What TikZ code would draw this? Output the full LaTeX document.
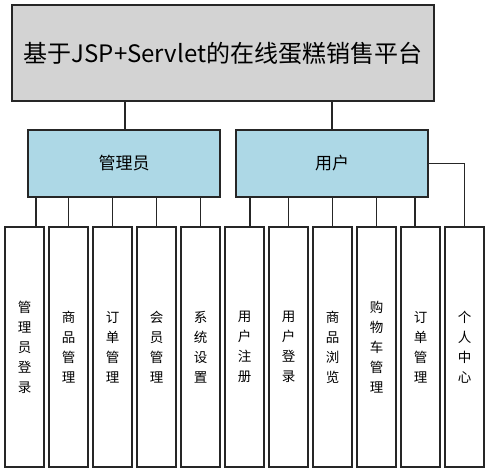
\documentclass[tikz,border=0pt]{standalone}
\usepackage{fontspec}
\setmainfont{Noto Sans CJK SC}
\definecolor{titlegray}{HTML}{D3D3D3}
\definecolor{midblue}{HTML}{ADD8E6}
\definecolor{edge}{HTML}{262626}
\begin{document}
\begin{tikzpicture}[x=1bp,y=-1bp,
  box/.style={draw=edge,line width=1.1bp,rectangle,inner sep=0pt},
  titlebox/.style={box,fill=titlegray,minimum width=422bp,minimum height=96bp,font=\fontsize{24bp}{28bp}\selectfont},
  midbox/.style={box,fill=midblue,minimum width=192bp,minimum height=67bp,font=\fontsize{17bp}{20bp}\selectfont},
  leafbox/.style={box,fill=white,minimum width=39bp,minimum height=240bp,align=center,font=\fontsize{13.5bp}{20bp}\selectfont},
  link/.style={draw=edge,line width=1.1bp}]
\useasboundingbox (0,0) rectangle (489,473);
\node[titlebox] (top) at (223,53) {基于JSP+Servlet的在线蛋糕销售平台};
\node[midbox] (admin) at (124,163.5) {管理员};
\node[midbox] (user) at (332,163.5) {用户};
\node[leafbox] (l1) at (24.5,347) {管\\理\\员\\登\\录};
\node[leafbox] (l2) at (68.5,347) {商\\品\\管\\理};
\node[leafbox] (l3) at (112.5,347) {订\\单\\管\\理};
\node[leafbox] (l4) at (156.5,347) {会\\员\\管\\理};
\node[leafbox] (l5) at (200.5,347) {系\\统\\设\\置};
\node[leafbox] (l6) at (244.5,347) {用\\户\\注\\册};
\node[leafbox] (l7) at (288.5,347) {用\\户\\登\\录};
\node[leafbox] (l8) at (332.5,347) {商\\品\\浏\\览};
\node[leafbox] (l9) at (376.5,347) {购\\物\\车\\管\\理};
\node[leafbox] (l10) at (420.5,347) {订\\单\\管\\理};
\node[leafbox] (l11) at (464.5,347) {个\\人\\中\\心};
\draw[link] ([xshift=1]admin.north) -- ([xshift=1]admin.north |- top.south);
\draw[link] (user.north) -- (user.north |- top.south);
\draw[link] ([xshift=11.5]l1.north) -- ([xshift=11.5]l1.north |- admin.south);
\foreach \n in {l2,l3,l4,l5}
  \draw[link] (\n.north) -- (\n.north |- admin.south);
\draw[link] ([xshift=5.5]l6.north) -- ([xshift=5.5]l6.north |- user.south);
\foreach \n in {l7,l8,l9}
  \draw[link] (\n.north) -- (\n.north |- user.south);
\draw[link] ([xshift=-5.5]l10.north) -- ([xshift=-5.5]l10.north |- user.south);
\draw[link] (user.east) -| (l11.north);
\end{tikzpicture}
\end{document}
